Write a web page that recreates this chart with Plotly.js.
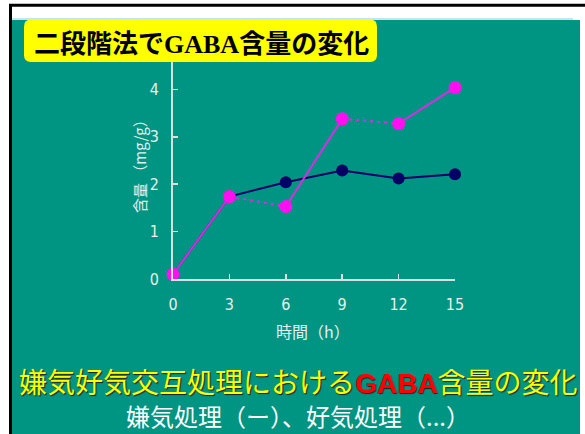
<!DOCTYPE html>
<html>
<head>
<meta charset="utf-8">
<script src="https://cdn.plot.ly/plotly-3.0.1.min.js"></script>
<style>
  html, body { margin: 0; padding: 0; background: #ffffff; }
  #chart { width: 585px; height: 434px; }
</style>
</head>
<body>
<div id="chart"></div>
<script>
// Sampling times (h)
const time = [0, 3, 6, 9, 12, 15];
// GABA content (mg/g), continuous anaerobic treatment
const anaerobic = [0.1, 1.74, 2.04, 2.29, 2.12, 2.21];
// GABA content (mg/g), alternating anaerobic / aerobic treatment
const alternating = [0.1, 1.74, 1.53, 3.38, 3.28, 4.04];
// Treatment applied in each interval of the alternating run
const phases = ['嫌気', '好気', '嫌気', '好気', '嫌気'];
const xTicks = [0, 3, 6, 9, 12, 15];
const yTicks = [0, 1, 2, 3, 4];

const W = 585, H = 434;
const M = { l: 173, r: 130, t: 61, b: 155 };
const pw = W - M.l - M.r, ph = H - M.t - M.b;
// pixel -> paper coordinates
const px = x => (x - M.l) / pw;
const py = y => (H - M.b - y) / ph;

const TEAL = '#009483';
const AXIS = '#d3e4e0';
const NAVY = '#000066';
const PINK = '#ff10f0';
const PINKLINE = '#cc33dd';

const traces = [];
traces.push({
  x: time, y: anaerobic, type: 'scatter', mode: 'lines+markers',
  line: { color: NAVY, width: 2 },
  marker: { color: NAVY, size: 12 },
  cliponaxis: false, hoverinfo: 'skip'
});
for (let i = 0; i < phases.length; i++) {
  traces.push({
    x: time.slice(i, i + 2), y: alternating.slice(i, i + 2),
    type: 'scatter', mode: 'lines',
    line: { color: PINKLINE, width: 2.2, dash: phases[i] === '嫌気' ? 'solid' : '3px,4px' },
    cliponaxis: false, hoverinfo: 'skip'
  });
}
traces.push({
  x: time, y: alternating, type: 'scatter', mode: 'markers',
  marker: { color: PINK, size: 13 },
  cliponaxis: false, hoverinfo: 'skip'
});

// rounded box behind the heading
function roundRect(x0, y0, x1, y1, r) {
  const X = v => px(v), Y = v => py(v);
  return `M${X(x0 + r)},${Y(y0)} L${X(x1 - r)},${Y(y0)} Q${X(x1)},${Y(y0)} ${X(x1)},${Y(y0 + r)} ` +
    `L${X(x1)},${Y(y1 - r)} Q${X(x1)},${Y(y1)} ${X(x1 - r)},${Y(y1)} ` +
    `L${X(x0 + r)},${Y(y1)} Q${X(x0)},${Y(y1)} ${X(x0)},${Y(y1 - r)} ` +
    `L${X(x0)},${Y(y0 + r)} Q${X(x0)},${Y(y0)} ${X(x0 + r)},${Y(y0)} Z`;
}

const tickFont = { family: 'Liberation Sans Narrow, DejaVu Sans Condensed, Noto Sans CJK JP, sans-serif', size: 16, color: '#e6f0ee' };

const layout = {
  width: W, height: H,
  margin: M,
  paper_bgcolor: '#ffffff',
  plot_bgcolor: 'rgba(0,0,0,0)',
  showlegend: false,
  xaxis: {
    range: [0, 15], tickvals: xTicks, ticktext: xTicks.map(String),
    showline: true, linecolor: AXIS, linewidth: 2,
    ticks: 'inside', ticklen: 5, tickwidth: 1.5, tickcolor: AXIS,
    showgrid: false, zeroline: false, tickfont: tickFont,
    ticklabelstandoff: 10, fixedrange: true
  },
  yaxis: {
    range: [0, 4.6], tickvals: yTicks, ticktext: yTicks.map(String),
    showline: true, linecolor: AXIS, linewidth: 2,
    ticks: 'inside', ticklen: 5, tickwidth: 1.5, tickcolor: AXIS,
    showgrid: false, zeroline: false, tickfont: tickFont,
    ticklabelstandoff: 9, fixedrange: true
  },
  shapes: [
    { type: 'rect', xref: 'paper', yref: 'paper', layer: 'below',
      x0: px(12), x1: px(580), y0: py(20), y1: py(H + 2),
      fillcolor: TEAL, line: { width: 0 } },
    { type: 'line', xref: 'paper', yref: 'paper', layer: 'below',
      x0: px(12), x1: px(573), y0: py(19), y1: py(19),
      line: { color: '#8fc8e8', width: 1.2 } },
    { type: 'line', xref: 'paper', yref: 'paper', layer: 'below',
      x0: px(9), x1: px(W + 2), y0: py(5.2), y1: py(5.2),
      line: { color: '#000000', width: 3 } },
    { type: 'line', xref: 'paper', yref: 'paper', layer: 'below',
      x0: px(10.5), x1: px(10.5), y0: py(4), y1: py(H + 2),
      line: { color: '#000000', width: 3 } },
    { type: 'path', xref: 'paper', yref: 'paper', layer: 'above',
      path: roundRect(24, 19.5, 377, 62, 7),
      fillcolor: '#ffff00', line: { width: 0 } }
  ],
  annotations: [
    { xref: 'paper', yref: 'paper', x: px(32), y: py(42), xanchor: 'left', yanchor: 'middle',
      showarrow: false,
      text: '<b>二段階法で<span style="font-family:\'Liberation Serif\', serif">GABA</span>含量の変化</b>',
      font: { family: 'Noto Sans CJK JP', size: 26, color: '#000000' } },
    { xref: 'paper', yref: 'paper', x: px(139), y: py(163), xanchor: 'center', yanchor: 'middle',
      showarrow: false, textangle: -90,
      text: '含量 （mg/g）',
      font: { family: 'Noto Sans CJK JP', size: 15, color: '#e6f0ee' } },
    { xref: 'paper', yref: 'paper', x: px(313), y: py(331), xanchor: 'center', yanchor: 'middle',
      showarrow: false,
      text: '時間（h）',
      font: { family: 'Noto Sans CJK JP', size: 16, color: '#e6f0ee' } },
    { xref: 'paper', yref: 'paper', x: px(298), y: py(381), xanchor: 'center', yanchor: 'middle',
      showarrow: false,
      text: '嫌気好気交互処理における<span style="color:#ff0000;font-family:\'Liberation Sans\', sans-serif;font-weight:bold">GABA</span>含量の変化',
      font: { family: 'Noto Sans CJK JP', size: 28, color: '#ffff00', shadow: '1px 1px 1px #202020' } },
    { xref: 'paper', yref: 'paper', x: px(298), y: py(415), xanchor: 'center', yanchor: 'middle',
      showarrow: false,
      text: '嫌気処理（ー）、好気処理（...）',
      font: { family: 'Noto Sans CJK JP', size: 24, color: '#ffffff' } }
  ]
};

Plotly.newPlot('chart', traces, layout, { displayModeBar: false, staticPlot: true });
</script>
</body>
</html>
